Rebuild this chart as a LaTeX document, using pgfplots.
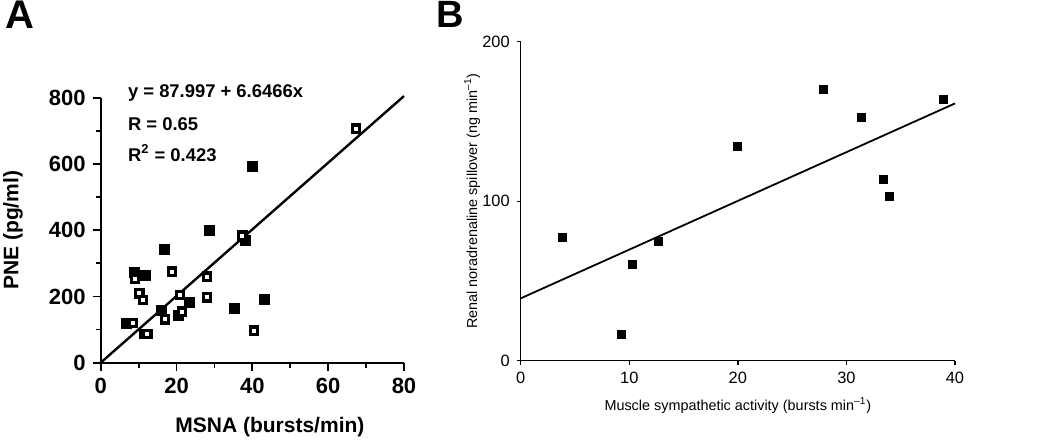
\documentclass[border=0pt]{standalone}
\usepackage{pgfplots}
\pgfplotsset{compat=1.18}
\usepackage{fontspec}
\setmainfont{Liberation Sans}
\begin{document}
\begin{tikzpicture}
\useasboundingbox (0,0) rectangle (525pt,-220pt);
\begin{axis}[
  at={(50.35pt,-181.35pt)}, anchor=south west,
  scale only axis, width=151.65pt, height=132.5pt,
  xmin=0,xmax=80,ymin=0,ymax=800,
  axis lines=left, axis line style={-, line width=1pt},
  xtick={0,20,...,80}, ytick={0,200,...,800},
  minor xtick={10,30,50,70}, minor ytick={100,300,500,700},
  tick align=outside, major tick length=4pt, minor tick length=2.5pt,
  every tick/.style={line width=0.9pt, black},
  /pgf/number format/assume math mode=true,
  ticklabel style={font=\fontsize{11}{13}\selectfont\bfseries},
  xlabel={MSNA (bursts/min)}, ylabel={PNE (pg/ml)},
  label style={font=\fontsize{10.5}{12}\selectfont\bfseries},
  xlabel style={at={(axis description cs:0.558,-0.243)}, anchor=center},
  ylabel style={at={(axis description cs:-0.289,0.5)}, anchor=center},
  clip=false,
]
\addplot[line width=1.2pt, black] coordinates {(0,0) (80,805)};
\addplot[only marks, mark=square*, mark size=2.5pt, mark options={fill=black, draw=black}] coordinates {
(40.0,592) (28.8,400) (38.1,368) (16.7,342) (11.9,264) (9.0,272) (15.9,159) (35.3,164) (43.2,192) (6.9,119) (20.5,144) (23.3,182)};
\addplot[only marks, mark=square*, mark size=1.8pt, mark options={fill=white, draw=black, line width=1.6pt}] coordinates {
(67.3,707) (37.4,384) (18.8,275) (9.0,252) (28.0,260) (28.0,197) (10.2,209) (11.1,189) (20.9,204) (16.9,131) (21.5,154) (40.4,97) (8.4,119) (11.4,87) (12.3,87)};
\end{axis}
\node[anchor=west, font=\fontsize{9.2}{11}\selectfont\bfseries] at (60.5pt,-46.5pt) {y = 87.997 + 6.6466x};
\node[anchor=west, font=\fontsize{9.2}{11}\selectfont\bfseries] at (60.5pt,-62pt) {R = 0.65};
\node[anchor=west, font=\fontsize{9.2}{11}\selectfont\bfseries] at (60.5pt,-76.5pt) {R\textsuperscript{2} = 0.423};
\node[font=\fontsize{20}{22}\selectfont\bfseries] at (10pt,-7.5pt) {A};
\node[font=\fontsize{19}{21}\selectfont\bfseries] at (225pt,-7pt) {B};
\begin{axis}[
  at={(260.35pt,-180.35pt)}, anchor=south west,
  scale only axis, width=217.15pt, height=159.5pt,
  xmin=0,xmax=40,ymin=0,ymax=200,
  axis lines=left, axis line style={-, line width=0.7pt},
  xtick={0,10,...,40}, ytick={0,100,200},
  tick align=outside, major tick length=2pt,
  every tick/.style={line width=0.7pt, black},
  /pgf/number format/assume math mode=true,
  ticklabel style={font=\fontsize{8.2}{10}\selectfont},
  xlabel={Muscle sympathetic activity (bursts min\textsuperscript{--1})},
  ylabel={Renal noradrenaline spillover (ng min\textsuperscript{--1})},
  label style={font=\fontsize{7.2}{9}\selectfont},
  xlabel style={at={(axis description cs:0.5,-0.142)}, anchor=center},
  ylabel style={at={(axis description cs:-0.112,0.5)}, anchor=center},
  clip=false,
]
\addplot[line width=0.9pt, black] coordinates {(0,39.1) (40,161.3)};
\addplot[only marks, mark=square*, mark size=2pt, mark options={fill=black, draw=black}] coordinates {
(3.87,77.1) (9.3,16.3) (10.28,60.2) (12.65,74.8) (19.98,134.2) (27.87,170.3) (31.34,152.8) (33.40,113.7) (33.92,102.8) (38.93,163.8)};
\end{axis}
\end{tikzpicture}
\end{document}
